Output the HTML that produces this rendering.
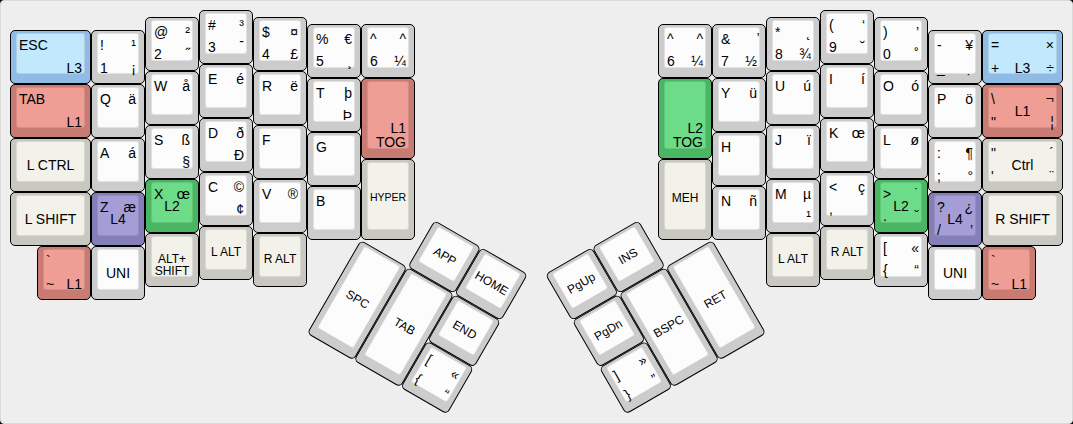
<!DOCTYPE html>
<html><head><meta charset="utf-8"><style>
html,body{margin:0;padding:0;background:#000;}
#kb{position:absolute;left:0;top:0;width:1071px;height:422px;border:1px solid #dadada;border-radius:4px;background:#eeeeee;overflow:hidden;}
.k{position:absolute;box-sizing:border-box;border:1px solid #000;border-radius:5px;}
.t{position:absolute;left:5px;top:2px;box-sizing:border-box;border:1px solid rgba(0,0,0,0.1);border-radius:3px;}
.l{position:absolute;font-family:"Liberation Sans",sans-serif;font-size:14px;line-height:16px;color:#000;white-space:nowrap;}
.tl{left:8px;}
.tr{right:8px;text-align:right;}
.bl{left:8px;}
.br{right:8px;text-align:right;}
.cc{left:0;right:0;text-align:center;}
.bc{left:0;right:0;text-align:center;}
.grp{position:absolute;left:0;top:0;width:1073px;height:424px;}
</style></head>
<body><div id="kb"><div class="k" style="left:9px;top:29.25px;width:81px;height:54px;background:#90bbe6"><div class="t" style="width:69px;height:41px;background:#c2e8fc"></div><div class="l tl" style="font-size:14px;line-height:14px;top:7.17px;">ESC</div><div class="l br" style="font-size:14px;line-height:14px;bottom:8.75px;">L3</div></div><div class="k" style="left:90px;top:29.25px;width:54px;height:54px;background:#cccccc"><div class="t" style="width:42px;height:41px;background:#fcfcfc"></div><div class="l tl" style="font-size:14px;line-height:14px;top:7.17px;">!</div><div class="l tr" style="font-size:14px;line-height:14px;top:7.17px;">¹</div><div class="l bl" style="font-size:14px;line-height:14px;bottom:8.75px;">1</div><div class="l br" style="font-size:14px;line-height:14px;bottom:8.75px;">¡</div></div><div class="k" style="left:144px;top:15.75px;width:54px;height:54px;background:#cccccc"><div class="t" style="width:42px;height:41px;background:#fcfcfc"></div><div class="l tl" style="font-size:14px;line-height:14px;top:7.17px;">@</div><div class="l tr" style="font-size:14px;line-height:14px;top:7.17px;">²</div><div class="l bl" style="font-size:14px;line-height:14px;bottom:8.75px;">2</div><div class="l br" style="font-size:14px;line-height:14px;bottom:8.75px;">˝</div></div><div class="k" style="left:198px;top:9px;width:54px;height:54px;background:#cccccc"><div class="t" style="width:42px;height:41px;background:#fcfcfc"></div><div class="l tl" style="font-size:14px;line-height:14px;top:7.17px;">#</div><div class="l tr" style="font-size:14px;line-height:14px;top:7.17px;">³</div><div class="l bl" style="font-size:14px;line-height:14px;bottom:8.75px;">3</div><div class="l br" style="font-size:14px;line-height:14px;bottom:8.75px;"><span style="position:relative;top:-6px">-</span></div></div><div class="k" style="left:252px;top:15.75px;width:54px;height:54px;background:#cccccc"><div class="t" style="width:42px;height:41px;background:#fcfcfc"></div><div class="l tl" style="font-size:14px;line-height:14px;top:7.17px;">$</div><div class="l tr" style="font-size:14px;line-height:14px;top:7.17px;">¤</div><div class="l bl" style="font-size:14px;line-height:14px;bottom:8.75px;">4</div><div class="l br" style="font-size:14px;line-height:14px;bottom:8.75px;">£</div></div><div class="k" style="left:306px;top:22.5px;width:54px;height:54px;background:#cccccc"><div class="t" style="width:42px;height:41px;background:#fcfcfc"></div><div class="l tl" style="font-size:14px;line-height:14px;top:7.17px;">%</div><div class="l tr" style="font-size:14px;line-height:14px;top:7.17px;">€</div><div class="l bl" style="font-size:14px;line-height:14px;bottom:8.75px;">5</div><div class="l br" style="font-size:14px;line-height:14px;bottom:8.75px;">¸</div></div><div class="k" style="left:360px;top:22.5px;width:54px;height:54px;background:#cccccc"><div class="t" style="width:42px;height:41px;background:#fcfcfc"></div><div class="l tl" style="font-size:14px;line-height:14px;top:7.17px;">^</div><div class="l tr" style="font-size:14px;line-height:14px;top:7.17px;">^</div><div class="l bl" style="font-size:14px;line-height:14px;bottom:8.75px;">6</div><div class="l br" style="font-size:14px;line-height:14px;bottom:8.75px;">¼</div></div><div class="k" style="left:9px;top:83.25px;width:81px;height:54px;background:#c87b72"><div class="t" style="width:69px;height:41px;background:#ef9e95"></div><div class="l tl" style="font-size:14px;line-height:14px;top:7.17px;">TAB</div><div class="l br" style="font-size:14px;line-height:14px;bottom:8.75px;">L1</div></div><div class="k" style="left:90px;top:83.25px;width:54px;height:54px;background:#cccccc"><div class="t" style="width:42px;height:41px;background:#fcfcfc"></div><div class="l tl" style="font-size:14px;line-height:14px;top:7.17px;">Q</div><div class="l tr" style="font-size:14px;line-height:14px;top:7.17px;">ä</div></div><div class="k" style="left:144px;top:69.75px;width:54px;height:54px;background:#cccccc"><div class="t" style="width:42px;height:41px;background:#fcfcfc"></div><div class="l tl" style="font-size:14px;line-height:14px;top:7.17px;">W</div><div class="l tr" style="font-size:14px;line-height:14px;top:7.17px;">å</div></div><div class="k" style="left:198px;top:63px;width:54px;height:54px;background:#cccccc"><div class="t" style="width:42px;height:41px;background:#fcfcfc"></div><div class="l tl" style="font-size:14px;line-height:14px;top:7.17px;">E</div><div class="l tr" style="font-size:14px;line-height:14px;top:7.17px;">é</div></div><div class="k" style="left:252px;top:69.75px;width:54px;height:54px;background:#cccccc"><div class="t" style="width:42px;height:41px;background:#fcfcfc"></div><div class="l tl" style="font-size:14px;line-height:14px;top:7.17px;">R</div><div class="l tr" style="font-size:14px;line-height:14px;top:7.17px;">ë</div></div><div class="k" style="left:306px;top:76.5px;width:54px;height:54px;background:#cccccc"><div class="t" style="width:42px;height:41px;background:#fcfcfc"></div><div class="l tl" style="font-size:14px;line-height:14px;top:7.17px;">T</div><div class="l tr" style="font-size:14px;line-height:14px;top:7.17px;">þ</div><div class="l br" style="font-size:14px;line-height:14px;bottom:8.75px;">Þ</div></div><div class="k" style="left:360px;top:76.5px;width:54px;height:81px;background:#c87b72"><div class="t" style="width:42px;height:68px;background:#ef9e95"></div><div class="l br" style="font-size:14px;line-height:14px;bottom:8.75px;">L1<br>TOG</div></div><div class="k" style="left:9px;top:137.25px;width:81px;height:54px;background:#c8c8c0"><div class="t" style="width:69px;height:41px;background:#f2f2ea"></div><div class="l cc" style="font-size:14px;line-height:14px;top:18.87px;">L CTRL</div></div><div class="k" style="left:90px;top:137.25px;width:54px;height:54px;background:#cccccc"><div class="t" style="width:42px;height:41px;background:#fcfcfc"></div><div class="l tl" style="font-size:14px;line-height:14px;top:7.17px;">A</div><div class="l tr" style="font-size:14px;line-height:14px;top:7.17px;">á</div></div><div class="k" style="left:144px;top:123.75px;width:54px;height:54px;background:#cccccc"><div class="t" style="width:42px;height:41px;background:#fcfcfc"></div><div class="l tl" style="font-size:14px;line-height:14px;top:7.17px;">S</div><div class="l tr" style="font-size:14px;line-height:14px;top:7.17px;">ß</div><div class="l br" style="font-size:14px;line-height:14px;bottom:8.75px;">§</div></div><div class="k" style="left:198px;top:117px;width:54px;height:54px;background:#cccccc"><div class="t" style="width:42px;height:41px;background:#fcfcfc"></div><div class="l tl" style="font-size:14px;line-height:14px;top:7.17px;">D</div><div class="l tr" style="font-size:14px;line-height:14px;top:7.17px;">ð</div><div class="l br" style="font-size:14px;line-height:14px;bottom:8.75px;">Ð</div></div><div class="k" style="left:252px;top:123.75px;width:54px;height:54px;background:#cccccc"><div class="t" style="width:42px;height:41px;background:#fcfcfc"></div><div class="l tl" style="font-size:14px;line-height:14px;top:7.17px;">F</div></div><div class="k" style="left:306px;top:130.5px;width:54px;height:54px;background:#cccccc"><div class="t" style="width:42px;height:41px;background:#fcfcfc"></div><div class="l tl" style="font-size:14px;line-height:14px;top:7.17px;">G</div></div><div class="k" style="left:360px;top:157.5px;width:54px;height:81px;background:#c8c8c0"><div class="t" style="width:42px;height:68px;background:#f2f2ea"></div><div class="l cc" style="font-size:10.5px;line-height:10.5px;top:32.83px;">HYPER</div></div><div class="k" style="left:9px;top:191.25px;width:81px;height:54px;background:#c8c8c0"><div class="t" style="width:69px;height:41px;background:#f2f2ea"></div><div class="l cc" style="font-size:14px;line-height:14px;top:18.87px;">L SHIFT</div></div><div class="k" style="left:90px;top:191.25px;width:54px;height:54px;background:#857fb9"><div class="t" style="width:42px;height:41px;background:#a59ed6"></div><div class="l tl" style="font-size:14px;line-height:14px;top:7.17px;">Z</div><div class="l tr" style="font-size:14px;line-height:14px;top:7.17px;">æ</div><div class="l cc" style="font-size:14px;line-height:14px;top:18.87px;">L4</div></div><div class="k" style="left:144px;top:177.75px;width:54px;height:54px;background:#4ab562"><div class="t" style="width:42px;height:41px;background:#6ddc88"></div><div class="l tl" style="font-size:14px;line-height:14px;top:7.17px;">X</div><div class="l tr" style="font-size:14px;line-height:14px;top:7.17px;">œ</div><div class="l cc" style="font-size:14px;line-height:14px;top:18.87px;">L2</div></div><div class="k" style="left:198px;top:171px;width:54px;height:54px;background:#cccccc"><div class="t" style="width:42px;height:41px;background:#fcfcfc"></div><div class="l tl" style="font-size:14px;line-height:14px;top:7.17px;">C</div><div class="l tr" style="font-size:14px;line-height:14px;top:7.17px;">©</div><div class="l br" style="font-size:14px;line-height:14px;bottom:8.75px;">¢</div></div><div class="k" style="left:252px;top:177.75px;width:54px;height:54px;background:#cccccc"><div class="t" style="width:42px;height:41px;background:#fcfcfc"></div><div class="l tl" style="font-size:14px;line-height:14px;top:7.17px;">V</div><div class="l tr" style="font-size:14px;line-height:14px;top:7.17px;">®</div></div><div class="k" style="left:306px;top:184.5px;width:54px;height:54px;background:#cccccc"><div class="t" style="width:42px;height:41px;background:#fcfcfc"></div><div class="l tl" style="font-size:14px;line-height:14px;top:7.17px;">B</div></div><div class="k" style="left:36px;top:245.25px;width:54px;height:54px;background:#c87b72"><div class="t" style="width:42px;height:41px;background:#ef9e95"></div><div class="l tl" style="font-size:14px;line-height:14px;top:7.17px;">`</div><div class="l bl" style="font-size:14px;line-height:14px;bottom:8.75px;">~</div><div class="l br" style="font-size:14px;line-height:14px;bottom:8.75px;">L1</div></div><div class="k" style="left:90px;top:245.25px;width:54px;height:54px;background:#cccccc"><div class="t" style="width:42px;height:41px;background:#fcfcfc"></div><div class="l cc" style="font-size:14px;line-height:14px;top:18.87px;">UNI</div></div><div class="k" style="left:144px;top:231.75px;width:54px;height:54px;background:#c8c8c0"><div class="t" style="width:42px;height:41px;background:#f2f2ea"></div><div class="l cc" style="font-size:12px;line-height:12px;top:19.13px;">ALT+<br>SHIFT</div></div><div class="k" style="left:198px;top:225px;width:54px;height:54px;background:#c8c8c0"><div class="t" style="width:42px;height:41px;background:#f2f2ea"></div><div class="l cc" style="font-size:12px;line-height:12px;top:19.13px;">L ALT</div></div><div class="k" style="left:252px;top:231.75px;width:54px;height:54px;background:#c8c8c0"><div class="t" style="width:42px;height:41px;background:#f2f2ea"></div><div class="l cc" style="font-size:12px;line-height:12px;top:19.13px;">R ALT</div></div><div class="k" style="left:657px;top:22.5px;width:54px;height:54px;background:#cccccc"><div class="t" style="width:42px;height:41px;background:#fcfcfc"></div><div class="l tl" style="font-size:14px;line-height:14px;top:7.17px;">^</div><div class="l tr" style="font-size:14px;line-height:14px;top:7.17px;">^</div><div class="l bl" style="font-size:14px;line-height:14px;bottom:8.75px;">6</div><div class="l br" style="font-size:14px;line-height:14px;bottom:8.75px;">¼</div></div><div class="k" style="left:711px;top:22.5px;width:54px;height:54px;background:#cccccc"><div class="t" style="width:42px;height:41px;background:#fcfcfc"></div><div class="l tl" style="font-size:14px;line-height:14px;top:7.17px;">&</div><div class="l tr" style="font-size:14px;line-height:14px;top:7.17px;">̛</div><div class="l bl" style="font-size:14px;line-height:14px;bottom:8.75px;">7</div><div class="l br" style="font-size:14px;line-height:14px;bottom:8.75px;">½</div></div><div class="k" style="left:765px;top:15.75px;width:54px;height:54px;background:#cccccc"><div class="t" style="width:42px;height:41px;background:#fcfcfc"></div><div class="l tl" style="font-size:14px;line-height:14px;top:7.17px;">*</div><div class="l tr" style="font-size:14px;line-height:14px;top:7.17px;">˛</div><div class="l bl" style="font-size:14px;line-height:14px;bottom:8.75px;">8</div><div class="l br" style="font-size:14px;line-height:14px;bottom:8.75px;">¾</div></div><div class="k" style="left:819px;top:9px;width:54px;height:54px;background:#cccccc"><div class="t" style="width:42px;height:41px;background:#fcfcfc"></div><div class="l tl" style="font-size:14px;line-height:14px;top:7.17px;">(</div><div class="l tr" style="font-size:14px;line-height:14px;top:7.17px;">‘</div><div class="l bl" style="font-size:14px;line-height:14px;bottom:8.75px;">9</div><div class="l br" style="font-size:14px;line-height:14px;bottom:8.75px;">˘</div></div><div class="k" style="left:873px;top:15.75px;width:54px;height:54px;background:#cccccc"><div class="t" style="width:42px;height:41px;background:#fcfcfc"></div><div class="l tl" style="font-size:14px;line-height:14px;top:7.17px;">)</div><div class="l tr" style="font-size:14px;line-height:14px;top:7.17px;">’</div><div class="l bl" style="font-size:14px;line-height:14px;bottom:8.75px;">0</div><div class="l br" style="font-size:14px;line-height:14px;bottom:8.75px;">˚</div></div><div class="k" style="left:927px;top:29.25px;width:54px;height:54px;background:#cccccc"><div class="t" style="width:42px;height:41px;background:#fcfcfc"></div><div class="l tl" style="font-size:14px;line-height:14px;top:7.17px;">-</div><div class="l tr" style="font-size:14px;line-height:14px;top:7.17px;">¥</div><div class="l bl" style="font-size:14px;line-height:14px;bottom:8.75px;">_</div><div class="l br" style="font-size:14px;line-height:14px;bottom:8.75px;">̣</div></div><div class="k" style="left:981px;top:29.25px;width:81px;height:54px;background:#90bbe6"><div class="t" style="width:69px;height:41px;background:#c2e8fc"></div><div class="l tl" style="font-size:14px;line-height:14px;top:7.17px;">=</div><div class="l tr" style="font-size:14px;line-height:14px;top:7.17px;">×</div><div class="l bl" style="font-size:14px;line-height:14px;bottom:8.75px;">+</div><div class="l br" style="font-size:14px;line-height:14px;bottom:8.75px;">÷</div><div class="l bc" style="font-size:14px;line-height:14px;bottom:8.75px;">L3</div></div><div class="k" style="left:657px;top:76.5px;width:54px;height:81px;background:#4ab562"><div class="t" style="width:42px;height:68px;background:#6ddc88"></div><div class="l br" style="font-size:14px;line-height:14px;bottom:8.75px;">L2<br>TOG</div></div><div class="k" style="left:711px;top:76.5px;width:54px;height:54px;background:#cccccc"><div class="t" style="width:42px;height:41px;background:#fcfcfc"></div><div class="l tl" style="font-size:14px;line-height:14px;top:7.17px;">Y</div><div class="l tr" style="font-size:14px;line-height:14px;top:7.17px;">ü</div></div><div class="k" style="left:765px;top:69.75px;width:54px;height:54px;background:#cccccc"><div class="t" style="width:42px;height:41px;background:#fcfcfc"></div><div class="l tl" style="font-size:14px;line-height:14px;top:7.17px;">U</div><div class="l tr" style="font-size:14px;line-height:14px;top:7.17px;">ú</div></div><div class="k" style="left:819px;top:63px;width:54px;height:54px;background:#cccccc"><div class="t" style="width:42px;height:41px;background:#fcfcfc"></div><div class="l tl" style="font-size:14px;line-height:14px;top:7.17px;">I</div><div class="l tr" style="font-size:14px;line-height:14px;top:7.17px;">í</div></div><div class="k" style="left:873px;top:69.75px;width:54px;height:54px;background:#cccccc"><div class="t" style="width:42px;height:41px;background:#fcfcfc"></div><div class="l tl" style="font-size:14px;line-height:14px;top:7.17px;">O</div><div class="l tr" style="font-size:14px;line-height:14px;top:7.17px;">ó</div></div><div class="k" style="left:927px;top:83.25px;width:54px;height:54px;background:#cccccc"><div class="t" style="width:42px;height:41px;background:#fcfcfc"></div><div class="l tl" style="font-size:14px;line-height:14px;top:7.17px;">P</div><div class="l tr" style="font-size:14px;line-height:14px;top:7.17px;">ö</div></div><div class="k" style="left:981px;top:83.25px;width:81px;height:54px;background:#c87b72"><div class="t" style="width:69px;height:41px;background:#ef9e95"></div><div class="l tl" style="font-size:14px;line-height:14px;top:7.17px;">\</div><div class="l tr" style="font-size:14px;line-height:14px;top:7.17px;">¬</div><div class="l bl" style="font-size:14px;line-height:14px;bottom:8.75px;">"</div><div class="l br" style="font-size:14px;line-height:14px;bottom:8.75px;">¦</div><div class="l cc" style="font-size:14px;line-height:14px;top:18.87px;">L1</div></div><div class="k" style="left:657px;top:157.5px;width:54px;height:81px;background:#c8c8c0"><div class="t" style="width:42px;height:68px;background:#f2f2ea"></div><div class="l cc" style="font-size:12px;line-height:12px;top:32.63px;">MEH</div></div><div class="k" style="left:711px;top:130.5px;width:54px;height:54px;background:#cccccc"><div class="t" style="width:42px;height:41px;background:#fcfcfc"></div><div class="l tl" style="font-size:14px;line-height:14px;top:7.17px;">H</div></div><div class="k" style="left:765px;top:123.75px;width:54px;height:54px;background:#cccccc"><div class="t" style="width:42px;height:41px;background:#fcfcfc"></div><div class="l tl" style="font-size:14px;line-height:14px;top:7.17px;">J</div><div class="l tr" style="font-size:14px;line-height:14px;top:7.17px;">ï</div></div><div class="k" style="left:819px;top:117px;width:54px;height:54px;background:#cccccc"><div class="t" style="width:42px;height:41px;background:#fcfcfc"></div><div class="l tl" style="font-size:14px;line-height:14px;top:7.17px;">K</div><div class="l tr" style="font-size:14px;line-height:14px;top:7.17px;">œ</div></div><div class="k" style="left:873px;top:123.75px;width:54px;height:54px;background:#cccccc"><div class="t" style="width:42px;height:41px;background:#fcfcfc"></div><div class="l tl" style="font-size:14px;line-height:14px;top:7.17px;">L</div><div class="l tr" style="font-size:14px;line-height:14px;top:7.17px;">ø</div></div><div class="k" style="left:927px;top:137.25px;width:54px;height:54px;background:#cccccc"><div class="t" style="width:42px;height:41px;background:#fcfcfc"></div><div class="l tl" style="font-size:14px;line-height:14px;top:7.17px;">:</div><div class="l tr" style="font-size:14px;line-height:14px;top:7.17px;">¶</div><div class="l bl" style="font-size:14px;line-height:14px;bottom:8.75px;">;</div><div class="l br" style="font-size:14px;line-height:14px;bottom:8.75px;">°</div></div><div class="k" style="left:981px;top:137.25px;width:81px;height:54px;background:#c8c8c0"><div class="t" style="width:69px;height:41px;background:#f2f2ea"></div><div class="l tl" style="font-size:14px;line-height:14px;top:7.17px;">"</div><div class="l tr" style="font-size:14px;line-height:14px;top:7.17px;">´</div><div class="l bl" style="font-size:14px;line-height:14px;bottom:8.75px;">'</div><div class="l br" style="font-size:14px;line-height:14px;bottom:8.75px;">¨</div><div class="l cc" style="font-size:14px;line-height:14px;top:18.87px;">Ctrl</div></div><div class="k" style="left:711px;top:184.5px;width:54px;height:54px;background:#cccccc"><div class="t" style="width:42px;height:41px;background:#fcfcfc"></div><div class="l tl" style="font-size:14px;line-height:14px;top:7.17px;">N</div><div class="l tr" style="font-size:14px;line-height:14px;top:7.17px;">ñ</div></div><div class="k" style="left:765px;top:177.75px;width:54px;height:54px;background:#cccccc"><div class="t" style="width:42px;height:41px;background:#fcfcfc"></div><div class="l tl" style="font-size:14px;line-height:14px;top:7.17px;">M</div><div class="l tr" style="font-size:14px;line-height:14px;top:7.17px;">µ</div><div class="l br" style="font-size:14px;line-height:14px;bottom:8.75px;">¹</div></div><div class="k" style="left:819px;top:171px;width:54px;height:54px;background:#cccccc"><div class="t" style="width:42px;height:41px;background:#fcfcfc"></div><div class="l tl" style="font-size:14px;line-height:14px;top:7.17px;"><</div><div class="l tr" style="font-size:14px;line-height:14px;top:7.17px;">ç</div><div class="l bl" style="font-size:14px;line-height:14px;bottom:8.75px;">,</div></div><div class="k" style="left:873px;top:177.75px;width:54px;height:54px;background:#4ab562"><div class="t" style="width:42px;height:41px;background:#6ddc88"></div><div class="l tl" style="font-size:14px;line-height:14px;top:7.17px;">></div><div class="l tr" style="font-size:14px;line-height:14px;top:7.17px;">˙</div><div class="l bl" style="font-size:14px;line-height:14px;bottom:8.75px;">.</div><div class="l br" style="font-size:14px;line-height:14px;bottom:8.75px;">ˇ</div><div class="l cc" style="font-size:14px;line-height:14px;top:18.87px;">L2</div></div><div class="k" style="left:927px;top:191.25px;width:54px;height:54px;background:#857fb9"><div class="t" style="width:42px;height:41px;background:#a59ed6"></div><div class="l tl" style="font-size:14px;line-height:14px;top:7.17px;">?</div><div class="l tr" style="font-size:14px;line-height:14px;top:7.17px;">¿</div><div class="l bl" style="font-size:14px;line-height:14px;bottom:8.75px;">/</div><div class="l br" style="font-size:14px;line-height:14px;bottom:8.75px;">’</div><div class="l cc" style="font-size:14px;line-height:14px;top:18.87px;">L4</div></div><div class="k" style="left:981px;top:191.25px;width:81px;height:54px;background:#c8c8c0"><div class="t" style="width:69px;height:41px;background:#f2f2ea"></div><div class="l cc" style="font-size:14px;line-height:14px;top:18.87px;">R SHIFT</div></div><div class="k" style="left:765px;top:231.75px;width:54px;height:54px;background:#c8c8c0"><div class="t" style="width:42px;height:41px;background:#f2f2ea"></div><div class="l cc" style="font-size:12px;line-height:12px;top:19.13px;">L ALT</div></div><div class="k" style="left:819px;top:225px;width:54px;height:54px;background:#c8c8c0"><div class="t" style="width:42px;height:41px;background:#f2f2ea"></div><div class="l cc" style="font-size:12px;line-height:12px;top:19.13px;">R ALT</div></div><div class="k" style="left:873px;top:231.75px;width:54px;height:54px;background:#cccccc"><div class="t" style="width:42px;height:41px;background:#fcfcfc"></div><div class="l tl" style="font-size:14px;line-height:14px;top:7.17px;">[</div><div class="l tr" style="font-size:14px;line-height:14px;top:7.17px;">«</div><div class="l bl" style="font-size:14px;line-height:14px;bottom:8.75px;">{</div><div class="l br" style="font-size:14px;line-height:14px;bottom:8.75px;">“</div></div><div class="k" style="left:927px;top:245.25px;width:54px;height:54px;background:#cccccc"><div class="t" style="width:42px;height:41px;background:#fcfcfc"></div><div class="l cc" style="font-size:14px;line-height:14px;top:18.87px;">UNI</div></div><div class="k" style="left:981px;top:245.25px;width:54px;height:54px;background:#c87b72"><div class="t" style="width:42px;height:41px;background:#ef9e95"></div><div class="l tl" style="font-size:14px;line-height:14px;top:7.17px;">`</div><div class="l bl" style="font-size:14px;line-height:14px;bottom:8.75px;">~</div><div class="l br" style="font-size:14px;line-height:14px;bottom:8.75px;">L1</div></div><div class="grp" style="transform-origin:360px 238.5px;transform:rotate(30deg)"><div class="k" style="left:414px;top:184.5px;width:54px;height:54px;background:#cccccc"><div class="t" style="width:42px;height:41px;background:#fcfcfc"></div><div class="l cc" style="font-size:12px;line-height:12px;top:19.13px;">APP</div></div><div class="k" style="left:468px;top:184.5px;width:54px;height:54px;background:#cccccc"><div class="t" style="width:42px;height:41px;background:#fcfcfc"></div><div class="l cc" style="font-size:12px;line-height:12px;top:19.13px;">HOME</div></div><div class="k" style="left:360px;top:238.5px;width:54px;height:108px;background:#cccccc"><div class="t" style="width:42px;height:95px;background:#fcfcfc"></div><div class="l cc" style="font-size:12px;line-height:12px;top:46.13px;">SPC</div></div><div class="k" style="left:414px;top:238.5px;width:54px;height:108px;background:#cccccc"><div class="t" style="width:42px;height:95px;background:#fcfcfc"></div><div class="l cc" style="font-size:12px;line-height:12px;top:46.13px;">TAB</div></div><div class="k" style="left:468px;top:238.5px;width:54px;height:54px;background:#cccccc"><div class="t" style="width:42px;height:41px;background:#fcfcfc"></div><div class="l cc" style="font-size:12px;line-height:12px;top:19.13px;">END</div></div><div class="k" style="left:468px;top:292.5px;width:54px;height:54px;background:#cccccc"><div class="t" style="width:42px;height:41px;background:#fcfcfc"></div><div class="l tl" style="font-size:14px;line-height:14px;top:7.17px;">[</div><div class="l tr" style="font-size:14px;line-height:14px;top:7.17px;">«</div><div class="l bl" style="font-size:14px;line-height:14px;bottom:8.75px;">{</div><div class="l br" style="font-size:14px;line-height:14px;bottom:8.75px;">“</div></div></div><div class="grp" style="transform-origin:711px 238.5px;transform:rotate(-30deg)"><div class="k" style="left:549px;top:184.5px;width:54px;height:54px;background:#cccccc"><div class="t" style="width:42px;height:41px;background:#fcfcfc"></div><div class="l cc" style="font-size:12px;line-height:12px;top:19.13px;">PgUp</div></div><div class="k" style="left:603px;top:184.5px;width:54px;height:54px;background:#cccccc"><div class="t" style="width:42px;height:41px;background:#fcfcfc"></div><div class="l cc" style="font-size:12px;line-height:12px;top:19.13px;">INS</div></div><div class="k" style="left:549px;top:238.5px;width:54px;height:54px;background:#cccccc"><div class="t" style="width:42px;height:41px;background:#fcfcfc"></div><div class="l cc" style="font-size:12px;line-height:12px;top:19.13px;">PgDn</div></div><div class="k" style="left:603px;top:238.5px;width:54px;height:108px;background:#cccccc"><div class="t" style="width:42px;height:95px;background:#fcfcfc"></div><div class="l cc" style="font-size:12px;line-height:12px;top:46.13px;">BSPC</div></div><div class="k" style="left:657px;top:238.5px;width:54px;height:108px;background:#cccccc"><div class="t" style="width:42px;height:95px;background:#fcfcfc"></div><div class="l cc" style="font-size:12px;line-height:12px;top:46.13px;">RET</div></div><div class="k" style="left:549px;top:292.5px;width:54px;height:54px;background:#cccccc"><div class="t" style="width:42px;height:41px;background:#fcfcfc"></div><div class="l tl" style="font-size:14px;line-height:14px;top:7.17px;">]</div><div class="l tr" style="font-size:14px;line-height:14px;top:7.17px;">»</div><div class="l bl" style="font-size:14px;line-height:14px;bottom:8.75px;">}</div><div class="l br" style="font-size:14px;line-height:14px;bottom:8.75px;">”</div></div></div></div></body></html>
